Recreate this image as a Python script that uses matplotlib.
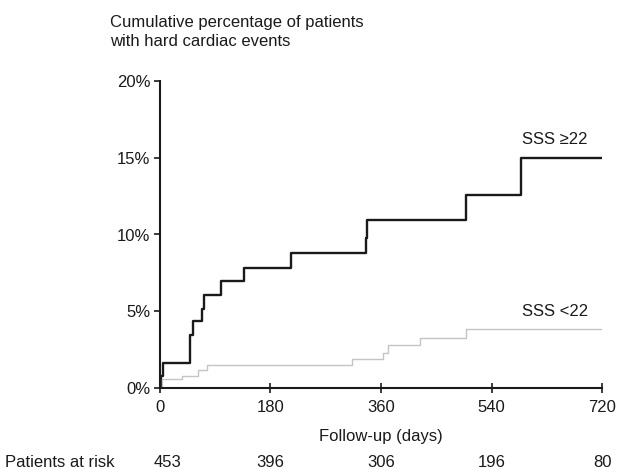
import matplotlib
matplotlib.use("Agg")
import matplotlib.pyplot as plt

plt.rcParams['font.family'] = ['Liberation Sans', 'DejaVu Sans']

# Kaplan-Meier style cumulative event curves (days, percent)
high_days = [0, 2, 5, 49, 54, 68, 71, 100, 137, 214, 336, 338, 499, 588, 720]
high_pct = [0, 0.8, 1.65, 3.45, 4.35, 5.15, 6.05, 6.95, 7.8, 8.8, 9.8, 10.95, 12.55, 15.0, 15.0]

low_days = [0, 4, 36, 62, 76, 312, 364, 372, 423, 498, 720]
low_pct = [0, 0.57, 0.78, 1.18, 1.5, 1.92, 2.3, 2.8, 3.28, 3.83, 3.83]

x_ticks = [0, 180, 360, 540, 720]
y_ticks = [0, 5, 10, 15, 20]
at_risk = [453, 396, 306, 196, 80]

fig = plt.figure(figsize=(6.17, 4.69), dpi=100)
ax = fig.add_axes([0.2593, 0.1727, 0.7164, 0.6546])

ax.step(high_days, high_pct, where='post', color='#1a1a1a', lw=1.7)
ax.step(low_days, low_pct, where='post', color='#c4c4c4', lw=1.0)

ax.set_xlim(0, 720)
ax.set_ylim(0, 20)
ax.set_xticks(x_ticks)
ax.set_yticks(y_ticks)
ax.set_yticklabels([f"{v}%" for v in y_ticks])

for s in ['top', 'right']:
    ax.spines[s].set_visible(False)
for s in ['left', 'bottom']:
    ax.spines[s].set_linewidth(1.5)
    ax.spines[s].set_color('#1a1a1a')

ax.tick_params(axis='x', direction='inout', length=7, width=1.2, pad=5,
               labelsize=12, colors='#1a1a1a')
ax.tick_params(axis='y', direction='out', length=4, width=1.2, pad=3,
               labelsize=12, colors='#1a1a1a')

ax.text(590, 16.2, "SSS ≥22", fontsize=12, va='center', ha='left', color='#1a1a1a')
ax.text(590, 5.0, "SSS <22", fontsize=12, va='center', ha='left', color='#1a1a1a')

fig.text(110 / 617, 1 - 22 / 469, "Cumulative percentage of patients",
         fontsize=12, va='center', ha='left', color='#1a1a1a')
fig.text(110 / 617, 1 - 42 / 469, "with hard cardiac events",
         fontsize=12, va='center', ha='left', color='#1a1a1a')

fig.text(381 / 617, 1 - 437 / 469, "Follow-up (days)", fontsize=12,
         va='center', ha='center', color='#1a1a1a')

fig.text(5 / 617, 1 - 462 / 469, "Patients at risk", fontsize=12,
         va='center', ha='left', color='#1a1a1a')
for d, n in zip(x_ticks, at_risk):
    xd = d if d > 0 else 12
    xf, _ = fig.transFigure.inverted().transform(ax.transData.transform((xd, 0)))
    fig.text(xf, 1 - 462 / 469, str(n), fontsize=12, va='center', ha='center',
             color='#1a1a1a')

fig.savefig("out.png", dpi=100)
